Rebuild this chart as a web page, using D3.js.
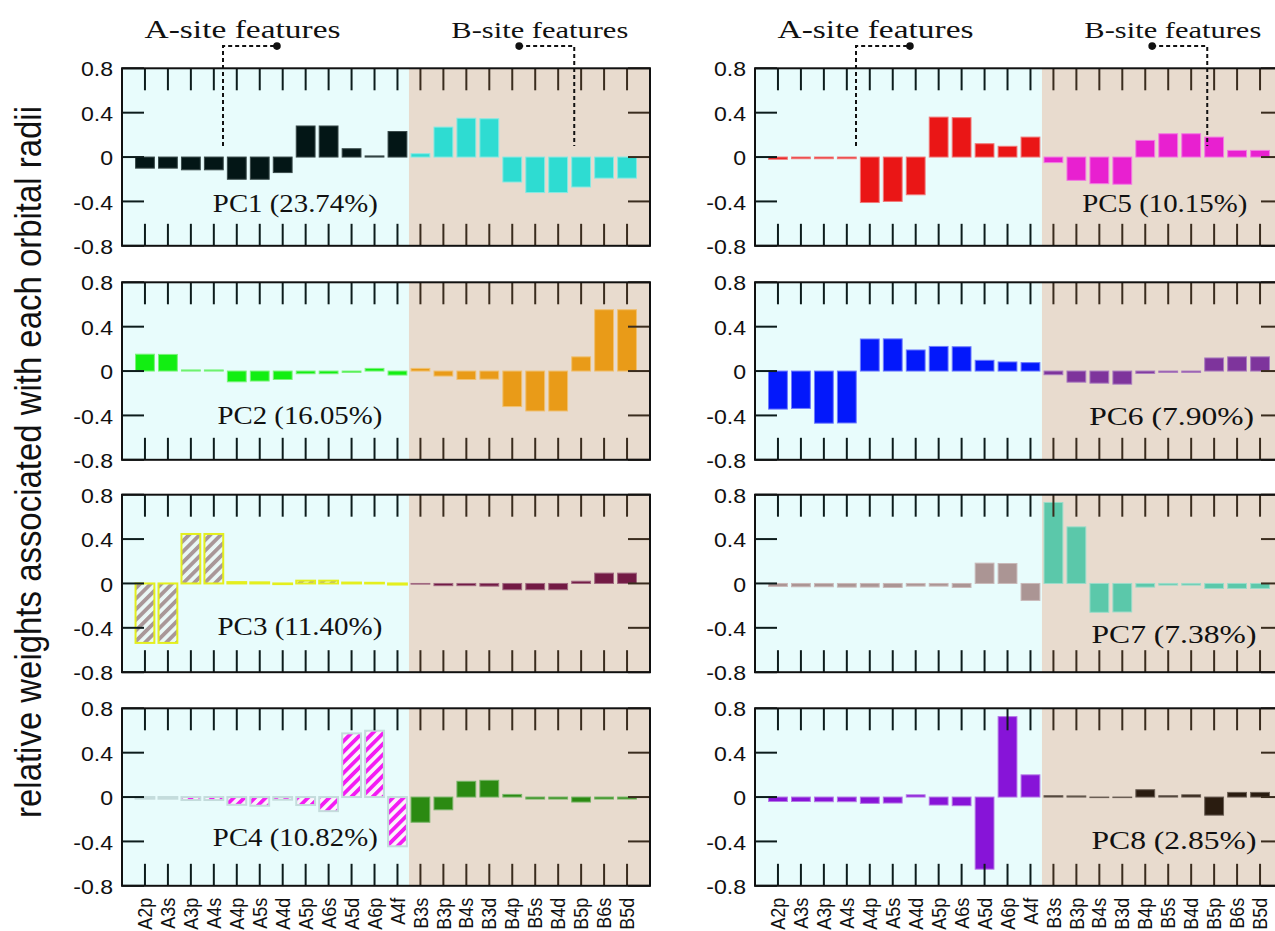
<!DOCTYPE html>
<html>
<head>
<meta charset="utf-8">
<script src="https://cdn.jsdelivr.net/npm/d3@7"></script>
<style>
  body { margin: 0; background: #ffffff; }
  svg { display: block; }
</style>
</head>
<body>
<svg id="chart" width="1275" height="931"></svg>
<script>
// ---- data -------------------------------------------------------------
const categories = ["A2p","A3s","A3p","A4s","A4p","A5s","A4d","A5p","A6s","A5d","A6p","A4f",
                    "B3s","B3p","B4s","B3d","B4p","B5s","B4d","B5p","B6s","B5d"];
const nSiteA = 12;   // first 12 features belong to the A site
const yTickValues = [-0.8, -0.4, 0, 0.4, 0.8];
const yTickLabels = ["-0.8", "-0.4", "0", "0.4", "0.8"];
const pcNames = ["PC1 (23.74%)", "PC2 (16.05%)", "PC3 (11.40%)", "PC4 (10.82%)",
                 "PC5 (10.15%)", "PC6 (7.90%)", "PC7 (7.38%)", "PC8 (2.85%)"];

const pc1 = [-0.10,-0.10,-0.115,-0.115,-0.20,-0.20,-0.14,0.28,0.28,0.075,0.01,0.23,
             0.03,0.27,0.35,0.345,-0.225,-0.32,-0.32,-0.27,-0.19,-0.19];
const pc2 = [0.152,0.15,0.01,0.01,-0.097,-0.09,-0.076,-0.024,-0.024,-0.012,0.024,-0.036,
             0.024,-0.045,-0.076,-0.073,-0.32,-0.36,-0.36,0.128,0.553,0.553];
const pc3 = [-0.536,-0.536,0.446,0.446,0.012,0.01,-0.006,0.025,0.025,0.008,0.006,-0.01,
             -0.006,-0.02,-0.02,-0.024,-0.057,-0.057,-0.057,0.02,0.093,0.093];
const pc4 = [-0.015,-0.015,-0.027,-0.027,-0.07,-0.078,-0.024,-0.072,-0.127,0.574,0.598,-0.444,
             -0.227,-0.115,0.142,0.151,0.024,-0.018,-0.018,-0.045,-0.018,-0.018];
const pc5 = [-0.02,-0.015,-0.015,-0.015,-0.41,-0.40,-0.34,0.36,0.355,0.12,0.097,0.18,
             -0.05,-0.21,-0.24,-0.245,0.15,0.21,0.21,0.18,0.06,0.06];
const pc6 = [-0.343,-0.337,-0.47,-0.468,0.289,0.29,0.19,0.222,0.219,0.097,0.082,0.076,
             -0.033,-0.10,-0.109,-0.118,-0.021,-0.012,-0.012,0.118,0.128,0.128];
const pc7 = [-0.027,-0.03,-0.03,-0.033,-0.033,-0.036,-0.024,-0.024,-0.036,0.183,0.18,-0.153,
             0.73,0.51,-0.26,-0.257,-0.033,-0.015,-0.015,-0.045,-0.045,-0.045];
const pc8 = [-0.04,-0.04,-0.042,-0.042,-0.057,-0.054,0.02,-0.072,-0.078,-0.65,0.725,0.20,
             0.012,0.01,-0.005,-0.005,0.066,0.012,0.02,-0.163,0.042,0.042];

const pcSeries = [pc1, pc2, pc3, pc4, pc5, pc6, pc7, pc8];

// fill of the A-site and B-site bars of each component ("url(#…)" = hatched)
const colorsA = ["#031616", "#12ee12", "url(#hatchGrey)", "url(#hatchMagenta)",
                 "#ea1616", "#0318fb", "#ab9594", "#8714d8"];
const colorsB = ["#2edcd2", "#e99b18", "#721a44", "#2b8a12",
                 "#e820d0", "#7e349c", "#5bc8aa", "#2a1c10"];
const edgesA  = ["#3a4a4a", "#7af27a", "#e4ef1e", "#c4dcdc",
                 "#f07a7a", "#6e7cfd", "#c9b9b9", "#b578e6"];
const edgesB  = ["#86e9e3", "#f0c070", "#a06880", "#78b468",
                 "#f27ae2", "#aa7cbf", "#9adcca", "#6a5e54"];

// ---- layout -----------------------------------------------------------
const svg = d3.select("#chart");
const colX = [122, 755];
const rowY = [68.3, 282.3, 494.7, 708.3];
const panelW = 528, panelH = 177.5;
const tickLen = 22;
const bandFrac = 0.82;
const bgA = "#e8fcfc", bgB = "#e8dbce";
const tickA = "#0d1c1c", tickB = "#3a2c1e";
const serif = "Liberation Serif, Times New Roman, serif";
const sans = "Liberation Sans, Arial, sans-serif";

// label anchor of each component name, in data units (x index, y value)
const nameAt = [[6.55,-0.486],[6.75,-0.47],[6.75,-0.46],[6.55,-0.43],
                [16.85,-0.49],[17.15,-0.48],[17.25,-0.53],[17.25,-0.46]];

const defs = svg.append("defs");
function hatch(id, stripe, ground) {
  const p = defs.append("pattern").attr("id", id)
    .attr("patternUnits", "userSpaceOnUse")
    .attr("width", 7.5).attr("height", 7.5)
    .attr("patternTransform", "rotate(45)");
  p.append("rect").attr("width", 7.5).attr("height", 7.5).attr("fill", ground);
  p.append("rect").attr("width", 3.8).attr("height", 7.5).attr("fill", stripe);
}
hatch("hatchGrey", "#a99798", "#eaf8f6");
hatch("hatchMagenta", "#f31cf3", "#fbf4fb");

// text stretched horizontally to a given width
function fitText(g, str, cx, y, width, font, size, anchor) {
  const t = g.append("text")
    .attr("font-family", font).attr("font-size", size)
    .attr("text-anchor", anchor || "middle")
    .attr("fill", "#111").text(str);
  const len = t.node().getComputedTextLength();
  t.attr("transform", `translate(${cx},${y}) scale(${width / len},1)`);
  return t;
}

pcSeries.forEach((vals, k) => {
  const col = k < 4 ? 0 : 1, row = k % 4;
  const x0 = colX[col], y0 = rowY[row];
  const x = d3.scaleLinear().domain([-1, 22]).range([x0, x0 + panelW]);
  const y = d3.scaleLinear().domain([-0.8, 0.8]).range([y0 + panelH, y0]);
  const bw = (x(1) - x(0)) * bandFrac;
  const xDiv = x(nSiteA - 0.5);
  const g = svg.append("g");

  // site backgrounds
  g.append("rect").attr("x", x0).attr("y", y0).attr("width", xDiv - x0)
    .attr("height", panelH).attr("fill", bgA);
  g.append("rect").attr("x", xDiv).attr("y", y0).attr("width", x0 + panelW - xDiv)
    .attr("height", panelH).attr("fill", bgB);

  // bars
  const hatched = colorsA[k].startsWith("url");
  g.selectAll("rect.bar").data(vals).join("rect")
    .attr("class", "bar")
    .attr("x", (d, i) => x(i) - bw / 2)
    .attr("y", d => y(Math.max(0, d)))
    .attr("width", bw)
    .attr("height", d => Math.abs(y(d) - y(0)))
    .attr("fill", (d, i) => i < nSiteA ? colorsA[k] : colorsB[k])
    .attr("stroke", (d, i) => i < nSiteA ? edgesA[k] : edgesB[k])
    .attr("stroke-width", (d, i) => (i < nSiteA && hatched) ? 2 : 1);

  // x ticks, mirrored on top and bottom
  const tk = g.append("g").attr("stroke-width", 2);
  categories.forEach((c, i) => {
    const col_ = i < nSiteA ? tickA : tickB;
    tk.append("line").attr("x1", x(i)).attr("x2", x(i))
      .attr("y1", y0).attr("y2", y0 + tickLen).attr("stroke", col_);
    tk.append("line").attr("x1", x(i)).attr("x2", x(i))
      .attr("y1", y0 + panelH).attr("y2", y0 + panelH - tickLen).attr("stroke", col_);
  });
  // y ticks, mirrored on left and right
  yTickValues.forEach(v => {
    tk.append("line").attr("x1", x0).attr("x2", x0 + tickLen)
      .attr("y1", y(v)).attr("y2", y(v)).attr("stroke", tickA);
    tk.append("line").attr("x1", x0 + panelW).attr("x2", x0 + panelW - tickLen)
      .attr("y1", y(v)).attr("y2", y(v)).attr("stroke", tickB);
  });

  // frame
  g.append("rect").attr("x", x0).attr("y", y0).attr("width", panelW).attr("height", panelH)
    .attr("fill", "none").attr("stroke", "#111").attr("stroke-width", 2);

  // y tick labels
  yTickValues.forEach((v, j) => {
    g.append("text").attr("font-family", sans)
      .attr("font-size", 21).attr("text-anchor", "end")
      .attr("dominant-baseline", "central").attr("fill", "#111")
      .attr("transform", `translate(${x0 - 9},${y(v) + 1}) scale(1.1,1)`)
      .text(yTickLabels[j]);
  });

  // component name
  fitText(g, pcNames[k], x(nameAt[k][0]), y(nameAt[k][1]) + 1, 165, serif, 25.5);

  // site annotations above the top panels
  if (row === 0) {
    const ann = g.append("g").attr("fill", "none").attr("stroke", "#111")
      .attr("stroke-width", 2).attr("stroke-dasharray", "4,3");
    const line = d3.line().x(d => x(d[0])).y(d => y(d[1]));
    ann.append("path").attr("d", line([[3.4, 0.1], [3.4, 1.0], [5.75, 1.0]]));
    ann.append("path").attr("d", line([[16.3, 1.0], [18.7, 1.0], [18.7, 0.1]]));
    g.append("circle").attr("cx", x(5.75)).attr("cy", y(1.0)).attr("r", 3.8).attr("fill", "#111");
    g.append("circle").attr("cx", x(16.3)).attr("cy", y(1.0)).attr("r", 3.8).attr("fill", "#111");
    fitText(g, "A-site features", x(4.25), y(1.1) + 3, 196, serif, 25.5);
    fitText(g, "B-site features", x(17.2), y(1.1) + 3, 177, serif, 23);
  }

  // feature names under the bottom panels
  if (row === 3) {
    categories.forEach((c, i) => {
      g.append("text").attr("font-family", sans)
        .attr("font-size", 18).attr("text-anchor", "end").attr("dy", "0.36em")
        .attr("fill", "#111")
        .attr("transform", `translate(${x(i)},${y0 + panelH + 12}) scale(1.1,1) rotate(-90)`)
        .text(c);
    });
  }
});

// shared y-axis title
const yt = svg.append("text").attr("font-family", sans)
  .attr("font-size", 26).attr("text-anchor", "middle").attr("fill", "#111")
  .text("relative weights associated with each orbital radii");
const ytLen = yt.node().getComputedTextLength();
yt.attr("font-size", 26 * 712 / ytLen)
  .attr("transform", "translate(41,462) scale(1.1,1) rotate(-90)");
</script>
</body>
</html>
